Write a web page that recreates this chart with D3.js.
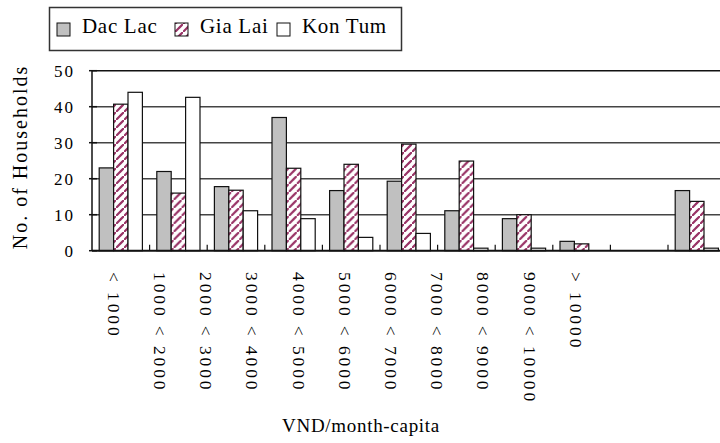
<!DOCTYPE html>
<html>
<head>
<meta charset="utf-8">
<script src="https://cdn.jsdelivr.net/npm/d3@7"></script>
<style>
  body { margin: 0; background: #fff; }
</style>
</head>
<body>
<div id="chart"></div>
<script>
// data
const categories = ["< 1000", "1000 < 2000", "2000 < 3000", "3000 < 4000", "4000 < 5000",
    "5000 < 6000", "6000 < 7000", "7000 < 8000", "8000 < 9000", "9000 < 10000", "> 10000"];
const seriesNames = ["Dac Lac", "Gia Lai", "Kon Tum"];
const dacLac = [23, 22, 17.8, 37, 16.7, 19.3, 11.1, 8.9, 2.6, 0, 16.7];
const giaLai = [40.7, 16, 16.8, 22.9, 24, 29.6, 24.9, 10, 1.9, 0, 13.7];
const konTum = [44, 42.6, 11.1, 8.9, 3.7, 4.8, 0.7, 0.7, 0, 0, 0.7];
const yTicks = [0, 10, 20, 30, 40, 50];

const width = 720;
const height = 443;
const serif = "'Liberation Serif', 'Times New Roman', Times, serif";

const svg = d3.select("#chart").append("svg")
    .attr("width", width)
    .attr("height", height)
    .style("font-family", serif);

// hatch pattern for Gia Lai (dashed diagonal strokes)
const defs = svg.append("defs");
const pat = defs.append("pattern")
    .attr("id", "hatch")
    .attr("patternUnits", "userSpaceOnUse")
    .attr("width", 8)
    .attr("height", 8);
pat.append("rect").attr("width", 8).attr("height", 8).attr("fill", "#fff");
pat.append("path")
    .attr("d", "M0.6,7.4 L3.2,4.8 M4.6,3.4 L7.4,0.6")
    .attr("stroke", "#993366")
    .attr("stroke-width", 2.2)
    .attr("stroke-linecap", "square");

const plotLeft = 92, plotRight = 725.6, plotTop = 70.7, plotBottom = 250.7;

const x = d3.scaleBand()
    .domain(categories)
    .range([plotLeft, plotRight])
    .paddingInner(0)
    .paddingOuter(0);

const xInner = d3.scaleBand()
    .domain(seriesNames)
    .range([0, x.bandwidth()])
    .paddingInner(0)
    .paddingOuter(0.5);

const y = d3.scaleLinear()
    .domain([0, 50])
    .range([plotBottom, plotTop]);

// labels sit on their own spacing in the original
const xLabel = d3.scalePoint()
    .domain(categories)
    .range([114, 576]);

// gridlines
svg.append("g")
    .selectAll("line")
    .data(yTicks.filter(d => d > 0))
    .join("line")
    .attr("x1", plotLeft)
    .attr("x2", plotRight)
    .attr("y1", d => y(d))
    .attr("y2", d => y(d))
    .attr("stroke", d => d === 50 ? "#111" : "#444")
    .attr("stroke-width", 1.5);

// bars
const fills = { "Dac Lac": "#c0c0c0", "Gia Lai": "url(#hatch)", "Kon Tum": "#fff" };
const rows = categories.map((c, i) => ({
    cat: c,
    vals: [
        { s: "Dac Lac", v: dacLac[i] },
        { s: "Gia Lai", v: giaLai[i] },
        { s: "Kon Tum", v: konTum[i] }
    ]
}));

const groups = svg.append("g")
    .selectAll("g")
    .data(rows)
    .join("g")
    .attr("transform", d => `translate(${x(d.cat)},0)`);

groups.selectAll("rect")
    .data(d => d.vals.filter(e => e.v > 0))
    .join("rect")
    .attr("x", d => xInner(d.s))
    .attr("y", d => y(d.v))
    .attr("width", xInner.bandwidth())
    .attr("height", d => y(0) - y(d.v))
    .attr("fill", d => fills[d.s])
    .attr("stroke", "#111")
    .attr("stroke-width", 1.2);

// y axis
const yAxis = svg.append("g");
yAxis.append("line")
    .attr("x1", plotLeft).attr("x2", plotLeft)
    .attr("y1", plotTop).attr("y2", plotBottom)
    .attr("stroke", "#111").attr("stroke-width", 1.5);
yAxis.selectAll(".tick")
    .data(yTicks)
    .join("line")
    .attr("class", "tick")
    .attr("x1", plotLeft - 3).attr("x2", plotLeft + 5)
    .attr("y1", d => y(d)).attr("y2", d => y(d))
    .attr("stroke", "#111").attr("stroke-width", 1.5);
yAxis.selectAll("text")
    .data(yTicks)
    .join("text")
    .attr("x", 75)
    .attr("y", d => y(d))
    .attr("dy", "0.35em")
    .attr("text-anchor", "end")
    .attr("font-family", serif)
    .attr("font-size", 17)
    .style("letter-spacing", "2px")
    .text(d => d);

// x axis
const xAxis = svg.append("g");
xAxis.append("line")
    .attr("x1", plotLeft).attr("x2", plotRight)
    .attr("y1", plotBottom).attr("y2", plotBottom)
    .attr("stroke", "#111").attr("stroke-width", 2);
xAxis.selectAll(".tick")
    .data(categories.slice(1))
    .join("line")
    .attr("class", "tick")
    .attr("x1", d => x(d)).attr("x2", d => x(d))
    .attr("y1", plotBottom).attr("y2", plotBottom - 6)
    .attr("stroke", "#111").attr("stroke-width", 1.2);
xAxis.selectAll("text")
    .data(categories)
    .join("text")
    .attr("transform", d => `translate(${xLabel(d)},272) rotate(90)`)
    .attr("dy", "0.35em")
    .attr("text-anchor", "start")
    .attr("font-family", serif)
    .attr("font-size", 17.5)
    .style("letter-spacing", "2.9px")
    .text(d => d);

// axis titles
svg.append("text")
    .attr("transform", "translate(27,157) rotate(-90)")
    .attr("text-anchor", "middle")
    .attr("font-family", serif)
    .attr("font-size", 20)
    .style("letter-spacing", "2px")
    .text("No. of Households");

svg.append("text")
    .attr("x", 361)
    .attr("y", 432)
    .attr("text-anchor", "middle")
    .attr("font-family", serif)
    .attr("font-size", 19)
    .style("letter-spacing", "0.7px")
    .text("VND/month-capita");

// legend
const legend = svg.append("g");
legend.append("rect")
    .attr("x", 49.5).attr("y", 7.5)
    .attr("width", 352).attr("height", 43)
    .attr("fill", "#fff")
    .attr("stroke", "#333")
    .attr("stroke-width", 1.5);

const legendX = [57, 175, 277];
const items = legend.selectAll("g")
    .data(seriesNames)
    .join("g")
    .attr("transform", (d, i) => `translate(${legendX[i]},0)`);
items.append("rect")
    .attr("x", 0).attr("y", 23)
    .attr("width", 13).attr("height", 13)
    .attr("fill", d => fills[d])
    .attr("stroke", "#111")
    .attr("stroke-width", 1);
items.append("text")
    .attr("x", 25)
    .attr("y", 32.5)
    .attr("font-family", serif)
    .attr("font-size", 21)
    .style("letter-spacing", "0.7px")
    .text(d => d);
</script>
</body>
</html>
